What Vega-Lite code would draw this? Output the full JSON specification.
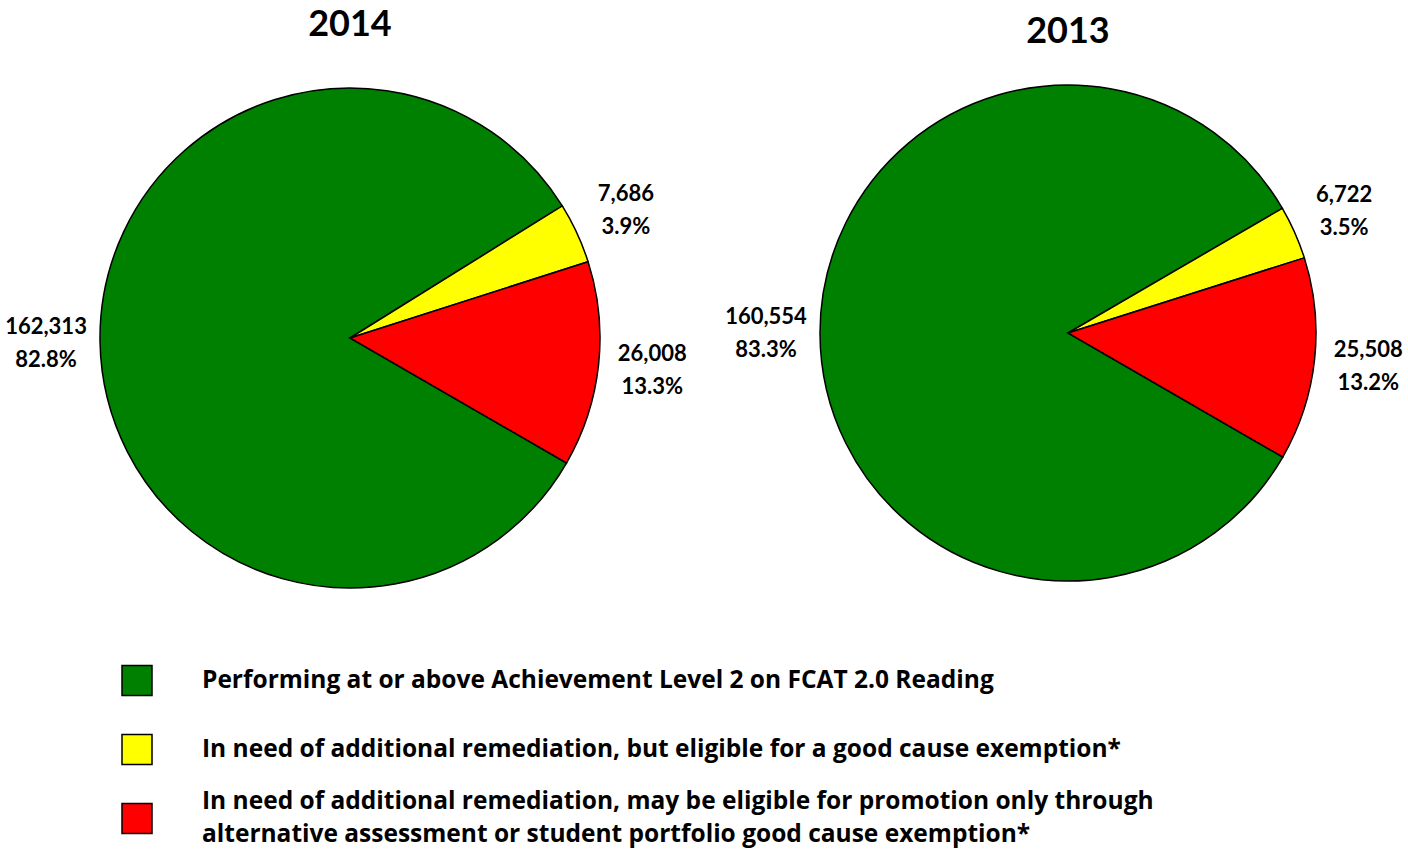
{
  "$schema": "https://vega.github.io/schema/vega-lite/v6.json",
  "padding": {"top": 7, "left": 0, "right": 0, "bottom": 0},
  "background": "white",
  "config": {"view": {"stroke": null}},
  "data": {"values": [
    {"year": "2014", "category": "Performing at or above Achievement Level 2 on FCAT 2.0 Reading", "rank": 1, "count": 162313, "percent": 82.8},
    {"year": "2014", "category": "In need of additional remediation, but eligible for a good cause exemption*", "rank": 2, "count": 7686, "percent": 3.9},
    {"year": "2014", "category": "In need of additional remediation, may be eligible for promotion only through\nalternative assessment or student portfolio good cause exemption*", "rank": 3, "count": 26008, "percent": 13.3},
    {"year": "2013", "category": "Performing at or above Achievement Level 2 on FCAT 2.0 Reading", "rank": 1, "count": 160554, "percent": 83.3},
    {"year": "2013", "category": "In need of additional remediation, but eligible for a good cause exemption*", "rank": 2, "count": 6722, "percent": 3.5},
    {"year": "2013", "category": "In need of additional remediation, may be eligible for promotion only through\nalternative assessment or student portfolio good cause exemption*", "rank": 3, "count": 25508, "percent": 13.2}
  ]},
  "vconcat": [
    {
      "hconcat": [
        {
          "width": 700, "height": 500,
          "title": {"text": "2014", "font": "Lato", "fontSize": 36, "fontWeight": "bold", "anchor": "middle", "frame": "group", "offset": 41, "color": "black"},
          "transform": [
            {"filter": "datum.year == '2014'"},
            {"calculate": "format(datum.count, ',') + '\\n' + format(datum.percent, '.1f') + '%'", "as": "label"}
          ],
          "encoding": {
            "theta": {"field": "count", "type": "quantitative", "stack": true, "scale": {"range": [2.0944, 8.3776]}},
            "order": {"field": "rank", "type": "quantitative"},
            "color": {"field": "category", "type": "nominal", "legend": null,
              "scale": {"domain": ["Performing at or above Achievement Level 2 on FCAT 2.0 Reading", "In need of additional remediation, but eligible for a good cause exemption*", "In need of additional remediation, may be eligible for promotion only through\nalternative assessment or student portfolio good cause exemption*"],
                "range": ["#008000", "#FFFF00", "#FF0000"]}}
          },
          "layer": [
            {"mark": {"type": "arc", "radius": 250, "stroke": "black", "strokeWidth": 1.5}},
            {"mark": {"type": "text", "radius": 304, "dy": -16, "font": "Lato", "fontWeight": "bold", "fontSize": 22, "lineBreak": "\n", "lineHeight": 33, "align": "center", "baseline": "middle"},
             "encoding": {"text": {"field": "label"}, "color": {"value": "black"}}}
          ]
        },
        {
          "width": 700, "height": 490,
          "title": {"text": "2013", "font": "Lato", "fontSize": 36, "fontWeight": "bold", "anchor": "middle", "frame": "group", "offset": 31, "color": "black"},
          "transform": [
            {"filter": "datum.year == '2013'"},
            {"calculate": "format(datum.count, ',') + '\\n' + format(datum.percent, '.1f') + '%'", "as": "label"}
          ],
          "encoding": {
            "theta": {"field": "count", "type": "quantitative", "stack": true, "scale": {"range": [2.0944, 8.3776]}},
            "order": {"field": "rank", "type": "quantitative"},
            "color": {"field": "category", "type": "nominal", "legend": null,
              "scale": {"domain": ["Performing at or above Achievement Level 2 on FCAT 2.0 Reading", "In need of additional remediation, but eligible for a good cause exemption*", "In need of additional remediation, may be eligible for promotion only through\nalternative assessment or student portfolio good cause exemption*"],
                "range": ["#008000", "#FFFF00", "#FF0000"]}}
          },
          "layer": [
            {"mark": {"type": "arc", "radius": 248, "stroke": "black", "strokeWidth": 1.5}},
            {"mark": {"type": "text", "radius": 302, "dy": -16, "font": "Lato", "fontWeight": "bold", "fontSize": 22, "lineBreak": "\n", "lineHeight": 33, "align": "center", "baseline": "middle"},
             "encoding": {"text": {"field": "label"}, "color": {"value": "black"}}}
          ]
        }
      ],
      "spacing": 18,
      "resolve": {"scale": {"theta": "independent"}}
    },
    {
      "width": 274, "height": 207,
      "transform": [{"filter": "datum.year == '2014'"}],
      "encoding": {
        "y": {"field": "category", "type": "nominal", "axis": null,
          "sort": {"field": "rank"},
          "scale": {"type": "point", "padding": 0.5}},
        "color": {"field": "category", "type": "nominal", "legend": null,
          "scale": {"domain": ["Performing at or above Achievement Level 2 on FCAT 2.0 Reading", "In need of additional remediation, but eligible for a good cause exemption*", "In need of additional remediation, may be eligible for promotion only through\nalternative assessment or student portfolio good cause exemption*"],
            "range": ["#008000", "#FFFF00", "#FF0000"]}}
      },
      "layer": [
        {"mark": {"type": "point", "shape": "square", "size": 900, "filled": true, "stroke": "black", "strokeWidth": 1.5, "opacity": 1}},
        {"transform": [{"filter": "datum.rank < 3"}],
         "mark": {"type": "text", "align": "left", "baseline": "middle", "dx": 65, "font": "Open Sans", "fontWeight": "bold", "fontSize": 24.5, "lineBreak": "\n", "lineHeight": 33},
         "encoding": {"text": {"field": "category"}, "color": {"value": "black"}}},
        {"transform": [{"filter": "datum.rank == 3"}],
         "mark": {"type": "text", "align": "left", "baseline": "middle", "dx": 65, "dy": -17, "font": "Open Sans", "fontWeight": "bold", "fontSize": 24.5, "lineBreak": "\n", "lineHeight": 33},
         "encoding": {"text": {"field": "category"}, "color": {"value": "black"}}}
      ]
    }
  ],
  "spacing": 55
}
